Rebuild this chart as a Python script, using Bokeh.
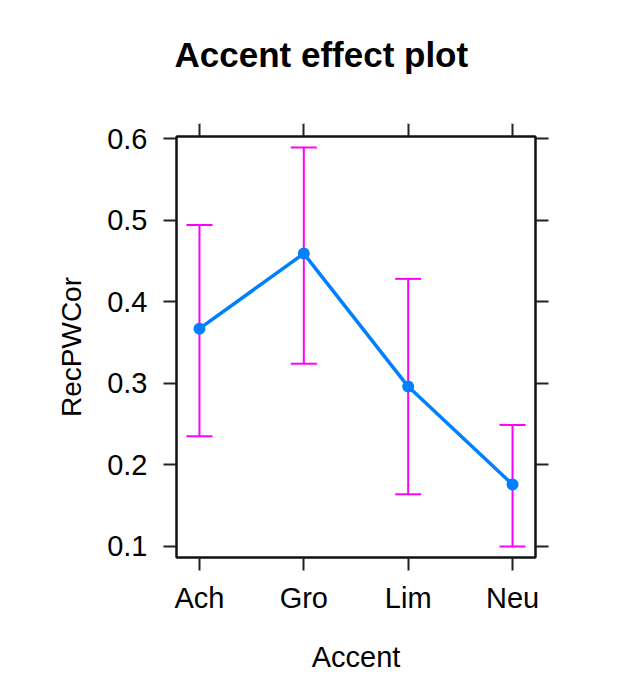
from bokeh.plotting import figure
from bokeh.models import ColumnDataSource, Whisker, TeeHead, LinearAxis, FixedTicker
from bokeh.embed import file_html
from bokeh.resources import INLINE

# ---- data ----
accents = ["Ach", "Gro", "Lim", "Neu"]
fit = [0.367, 0.459, 0.296, 0.176]
lower = [0.235, 0.324, 0.164, 0.100]
upper = [0.494, 0.589, 0.428, 0.249]
y_ticks = [0.1, 0.2, 0.3, 0.4, 0.5, 0.6]
title_text = "Accent effect plot"
x_label = "Accent"
y_label = "RecPWCor"

pos = list(range(1, len(accents) + 1))
src = ColumnDataSource(dict(x=pos, fit=fit, lower=lower, upper=upper))

FONT = "Liberation Sans"
BLUE = "#0080FF"
MAG = "#FF00FF"

W, H = 608, 684
p = figure(width=W, height=H, output_backend="svg", toolbar_location=None,
           x_range=(0.78, 4.22), y_range=(0.0865, 0.6025),
           min_border_left=176, min_border_right=73,
           min_border_top=136, min_border_bottom=127,
           background_fill_color="white", border_fill_color="white")

p.xgrid.visible = False
p.ygrid.visible = False
p.outline_line_color = "#111111"
p.outline_line_width = 2

# title
p.title.text = title_text
p.title.text_font = FONT
p.title.text_font_size = "35px"
p.title.text_font_style = "bold"
p.title.text_color = "#000000"
p.title.align = "left"
p.title.offset = -2
p.title.standoff = 0

xt = FixedTicker(ticks=pos)
yt = FixedTicker(ticks=y_ticks)


def style_axis(ax, ticker, show_labels):
    ax.ticker = ticker
    ax.axis_line_color = "#111111"
    ax.axis_line_width = 2
    ax.major_tick_line_color = "#222222"
    ax.major_tick_line_width = 2
    ax.major_tick_out = 13
    ax.major_tick_in = 0
    ax.minor_tick_line_color = None
    ax.major_label_text_font = FONT
    ax.major_label_text_font_size = "29px"
    if show_labels:
        ax.major_label_text_color = "#000000"
    else:
        ax.major_label_text_color = None
    ax.axis_label_text_font = FONT
    ax.axis_label_text_font_size = "29px"
    ax.axis_label_text_font_style = "normal"
    ax.axis_label_text_color = "#000000"


xax = p.xaxis[0]
yax = p.yaxis[0]
style_axis(xax, xt, True)
style_axis(yax, yt, True)
xax.major_label_overrides = {i: a for i, a in zip(pos, accents)}
xax.major_label_standoff = 11
xax.axis_label = x_label
xax.axis_label_standoff = 24
yax.major_label_standoff = 16
yax.major_label_orientation = "horizontal"
yax.axis_label = y_label
yax.axis_label_text_font_size = "28px"
yax.axis_label_standoff = 17

top_ax = LinearAxis()
style_axis(top_ax, xt, False)
p.add_layout(top_ax, "above")
right_ax = LinearAxis()
style_axis(right_ax, yt, False)
p.add_layout(right_ax, "right")

# invisible (white) spacer between the top ticks and the title
spacer = LinearAxis(ticker=FixedTicker(ticks=pos), axis_line_color=None,
                    major_tick_line_color="white", major_tick_line_width=1,
                    minor_tick_line_color=None,
                    major_tick_out=50, major_tick_in=0,
                    major_label_text_color=None)
p.add_layout(spacer, "above")

# error bars
w = Whisker(base="x", lower="lower", upper="upper", source=src, dimension="height",
            line_color=MAG, line_width=2,
            upper_head=TeeHead(size=26, line_color=MAG, line_width=2),
            lower_head=TeeHead(size=26, line_color=MAG, line_width=2))
p.add_layout(w)

# effect line and points
p.line("x", "fit", source=src, line_color=BLUE, line_width=3.5)
p.scatter("x", "fit", source=src, size=10, marker="circle",
          fill_color=BLUE, line_color=BLUE, line_width=2)

open("out.html", "w").write(file_html(p, INLINE))
